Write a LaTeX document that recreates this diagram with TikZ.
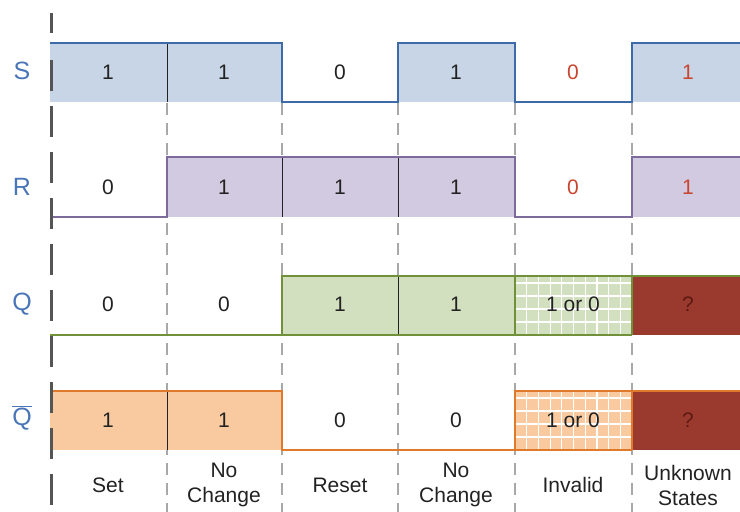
\documentclass[tikz,border=0pt]{standalone}
\usepackage{fontspec}
\setmainfont{Liberation Sans}
\definecolor{sline}{HTML}{3D6AA8}
\definecolor{sfill}{HTML}{C8D5E6}
\definecolor{rline}{HTML}{7D6B9E}
\definecolor{rfill}{HTML}{D2CAE0}
\definecolor{qline}{HTML}{70903A}
\definecolor{qfill}{HTML}{D3E0BF}
\definecolor{nline}{HTML}{E07A2A}
\definecolor{nfill}{HTML}{F9C9A0}
\definecolor{unk}{HTML}{9A3A2F}
\definecolor{unktxt}{HTML}{5E1A12}
\definecolor{labc}{HTML}{4A76B8}
\definecolor{txtc}{HTML}{222222}
\definecolor{redtxt}{HTML}{C8452F}
\definecolor{axisc}{HTML}{555555}
\definecolor{dashc}{HTML}{A8A8A8}
\begin{document}
\begin{tikzpicture}[x=1pt,y=-1pt,
  coldash/.style={draw=dashc,line width=1.6pt,dash pattern=on 12pt off 8pt},
  axisline/.style={draw=axisc,line width=3pt,dash pattern=on 31pt off 15pt},
  sig/.style={line width=2.4pt,line join=miter},
  sep/.style={draw=txtc,line width=1pt},
  gridl/.style={draw=white,line width=1.2pt},
  val/.style={font=\fontsize{21}{22}\selectfont,text=txtc,inner sep=0pt},
  redval/.style={val,text=redtxt},
  lab/.style={font=\fontsize{25}{26}\selectfont,text=labc,inner sep=0pt},
  bot/.style={font=\fontsize{21}{25}\selectfont,text=txtc,align=center,inner sep=0pt}]
\useasboundingbox (0,0) rectangle (740,512);
% column dashed lines
\foreach \x in {167,282,398,515,632} \draw[coldash] (\x,43) -- (\x,512);
% fills
\fill[sfill] (50,43) rectangle (282,102);
\fill[sfill] (398,43) rectangle (515,102);
\fill[sfill] (632,43) rectangle (740,102);
\fill[rfill] (167,157) rectangle (515,217);
\fill[rfill] (632,157) rectangle (740,217);
\fill[qfill] (282,276) rectangle (632,335);
\fill[unk] (632,276) rectangle (740,335);
\fill[nfill] (50,391) rectangle (282,450);
\fill[nfill] (515,391) rectangle (632,450);
\fill[unk] (632,391) rectangle (740,450);
% grids in invalid cells
\foreach \i in {1,...,9} {
  \draw[gridl] ({515+\i*11.7},277) -- ({515+\i*11.7},334);
  \draw[gridl] ({515+\i*11.7},392) -- ({515+\i*11.7},449);
}
\foreach \y in {7,20,33,46} {
  \draw[gridl] (516,276+\y) -- (631,276+\y);
  \draw[gridl] (516,391+\y) -- (631,391+\y);
}
% separators
\draw[sep] (167,43) -- (167,102);
\draw[sep] (282,157) -- (282,217);
\draw[sep] (398,157) -- (398,217);
\draw[sep] (398,276) -- (398,335);
\draw[sep] (167,391) -- (167,450);
\draw[qline,line width=1.6pt] (282,335) -- (632,335);
\draw[qline,line width=1.6pt] (515,276) -- (515,335);
\draw[qline,line width=1.6pt] (632,276) -- (632,335);
\draw[nline,line width=1.6pt] (515,450) -- (632,450);
\draw[nline,line width=1.6pt] (632,391) -- (632,450);
% signals
\draw[sig,sline] (50,43) -- (282,43) -- (282,102) -- (398,102) -- (398,43) -- (515,43) -- (515,102) -- (632,102) -- (632,43) -- (740,43);
\draw[sig,rline] (50,217) -- (167,217) -- (167,157) -- (515,157) -- (515,217) -- (632,217) -- (632,157) -- (740,157);
\draw[sig,qline] (50,335) -- (282,335) -- (282,276) -- (740,276);
\draw[sig,nline] (50,391) -- (282,391) -- (282,450) -- (515,450) -- (515,391) -- (740,391);
% axis
\draw[draw=axisc,line width=3pt] (51,13) -- (51,33);
\draw[axisline] (51,60) -- (51,512);
% labels
\node[lab] (lS) at (22,71) {S};
\node[lab] (lR) at (22,187) {R};
\node[lab] (lQ) at (22,304) {Q};
\node[lab] (lQb) at (22,418) {$\overline{\mbox{Q}}$};
% S row
\node[val] (s1) at (108,72) {1};
\node[val] (s2) at (224,72) {1};
\node[val] (s3) at (340,72) {0};
\node[val] (s4) at (456,72) {1};
\node[redval] (s5) at (573,72) {0};
\node[redval] (s6) at (688,72) {1};
% R row
\node[val] (r1) at (108,187) {0};
\node[val] (r2) at (224,187) {1};
\node[val] (r3) at (340,187) {1};
\node[val] (r4) at (456,187) {1};
\node[redval] (r5) at (573,187) {0};
\node[redval] (r6) at (688,187) {1};
% Q row
\node[val] (q1) at (108,304) {0};
\node[val] (q2) at (224,304) {0};
\node[val] (q3) at (340,304) {1};
\node[val] (q4) at (456,304) {1};
\node[val] (q5) at (573,304) {1 or 0};
\node[val,text=unktxt] (q6) at (688,304) {?};
% Qbar row
\node[val] (n1) at (108,420) {1};
\node[val] (n2) at (224,420) {1};
\node[val] (n3) at (340,420) {0};
\node[val] (n4) at (456,420) {0};
\node[val] (n5) at (573,420) {1 or 0};
\node[val,text=unktxt] (n6) at (688,420) {?};
% bottom labels
\node[bot] (b1) at (108,485) {Set};
\node[bot] (b2) at (224,485) {No\\Change};
\node[bot] (b3) at (340,485) {Reset};
\node[bot] (b4) at (456,485) {No\\Change};
\node[bot] (b5) at (573,485) {Invalid};
\node[bot] (b6) at (688,485) {Unknown\\States};
\end{tikzpicture}
\end{document}
